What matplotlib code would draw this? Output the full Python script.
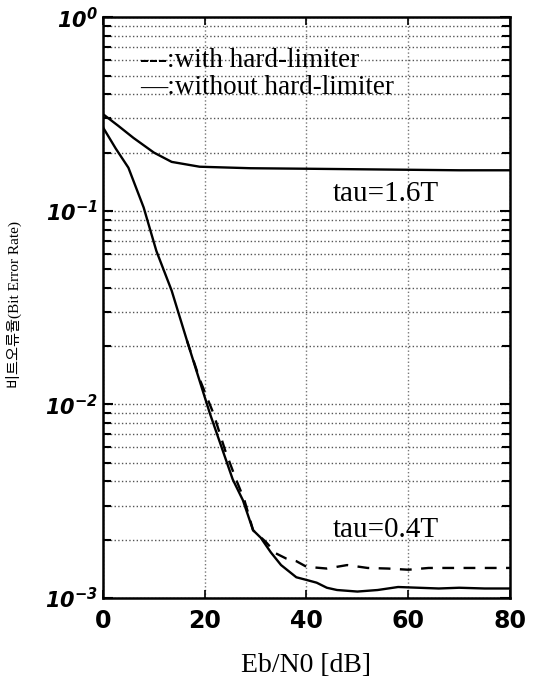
import matplotlib
matplotlib.use("Agg")
import matplotlib.pyplot as plt
from matplotlib.ticker import FixedLocator, LogLocator, NullFormatter

plt.rcParams["mathtext.fontset"] = "custom"
plt.rcParams["mathtext.bf"] = "DejaVu Sans:bold"
plt.rcParams["mathtext.bfit"] = "DejaVu Sans:italic:bold"

# ── Datos ────────────────────────────────────────────────────────────────────
snr_16 = [0, 3, 6, 10, 13.5, 19, 29, 40, 50, 60, 70, 80]
ber_16 = [0.316, 0.275, 0.238, 0.20, 0.179, 0.169, 0.166, 0.165, 0.164, 0.163, 0.162, 0.162]

snr_04 = [0, 2.5, 5, 8, 10.5, 13.5, 16.5, 21, 25.5, 27.5, 29.5, 31, 33, 35, 38, 40,
          42, 44, 46, 50, 54, 58, 62, 66, 70, 75, 80]
ber_04_nohl = [0.27, 0.21, 0.167, 0.104, 0.062, 0.0387, 0.0214, 0.009, 0.0041, 0.0032,
               0.00224, 0.00205, 0.00172, 0.00148, 0.00128, 0.00124, 0.00120, 0.00113,
               0.00110, 0.00108, 0.00110, 0.00114, 0.00113, 0.00112, 0.00113, 0.00112, 0.00112]

snr_04_hl = [16.5, 19, 21.7, 24, 26, 27.8, 29.5, 32, 34, 36, 38, 40, 44, 48, 52, 56,
             60, 64, 70, 80]
ber_04_hl = [0.0214, 0.0135, 0.009, 0.0058, 0.0042, 0.0032, 0.00224, 0.00195, 0.0017,
             0.0016, 0.00155, 0.00145, 0.00142, 0.00148, 0.00143, 0.00142, 0.0014,
             0.00143, 0.00143, 0.00143]

x_ticks = [0, 20, 40, 60, 80]
y_ticks = [1e-3, 1e-2, 1e-1, 1]
y_tick_labels = [r"$\mathbfit{10^{-3}}$", r"$\mathbfit{10^{-2}}$",
                 r"$\mathbfit{10^{-1}}$", r"$\mathbfit{10^{0}}$"]

fig = plt.figure(figsize=(5.38, 6.9), dpi=100)
ax = fig.add_axes([0.1914, 0.1333, 0.7566, 0.8417])

ax.plot(snr_16, ber_16, "-", color="black", linewidth=1.7)
ax.plot(snr_04, ber_04_nohl, "-", color="black", linewidth=1.7)
ax.plot(snr_04_hl, ber_04_hl, "--", color="black", linewidth=1.7, dashes=(5, 4))

ax.set_yscale("log")
ax.set_xlim(0, 80)
ax.set_ylim(1e-3, 1)

ax.xaxis.set_major_locator(FixedLocator(x_ticks))
ax.set_xticklabels([str(v) for v in x_ticks], fontsize=17, fontweight="bold",
                   family="DejaVu Sans")
ax.yaxis.set_major_locator(FixedLocator(y_ticks))
ax.set_yticklabels(y_tick_labels, fontsize=15)
ax.yaxis.set_minor_locator(LogLocator(base=10, subs=range(2, 10), numticks=20))
ax.yaxis.set_minor_formatter(NullFormatter())

ax.grid(True, which="major", axis="x", linestyle=":", color="#777777", linewidth=1.0)
ax.grid(True, which="both", axis="y", linestyle=":", color="#555555", linewidth=1.0)

ax.tick_params(axis="both", which="both", direction="in", top=True, right=True)
ax.tick_params(axis="y", which="major", length=7, width=1.5)
ax.tick_params(axis="y", which="minor", length=6, width=1.5)
ax.tick_params(axis="x", which="major", length=6, width=1.2, pad=8)
for sp in ax.spines.values():
    sp.set_linewidth(1.8)

# leyenda escrita como texto, igual que en el original
ax.text(7.3, 0.60, "---:with hard-limiter", fontsize=19.5, family="Liberation Serif",
        va="center")
ax.text(7.3, 0.435, "—:without hard-limiter", fontsize=19.5, family="Liberation Serif",
        va="center")
ax.text(45.2, 0.122, "tau=1.6T", fontsize=21, family="Liberation Serif", va="center")
ax.text(45.2, 0.00224, "tau=0.4T", fontsize=21, family="Liberation Serif", va="center")

ax.set_xlabel("Eb/N0 [dB]", fontsize=20, family="Liberation Serif")
ax.xaxis.set_label_coords(0.5, -0.095)
ax.set_ylabel("비트오류율(Bit Error Rate)", fontsize=11,
              family=["Liberation Serif", "Noto Sans CJK KR"])
ax.yaxis.set_label_coords(-0.20, 0.505)

fig.savefig("out.png", dpi=100)
